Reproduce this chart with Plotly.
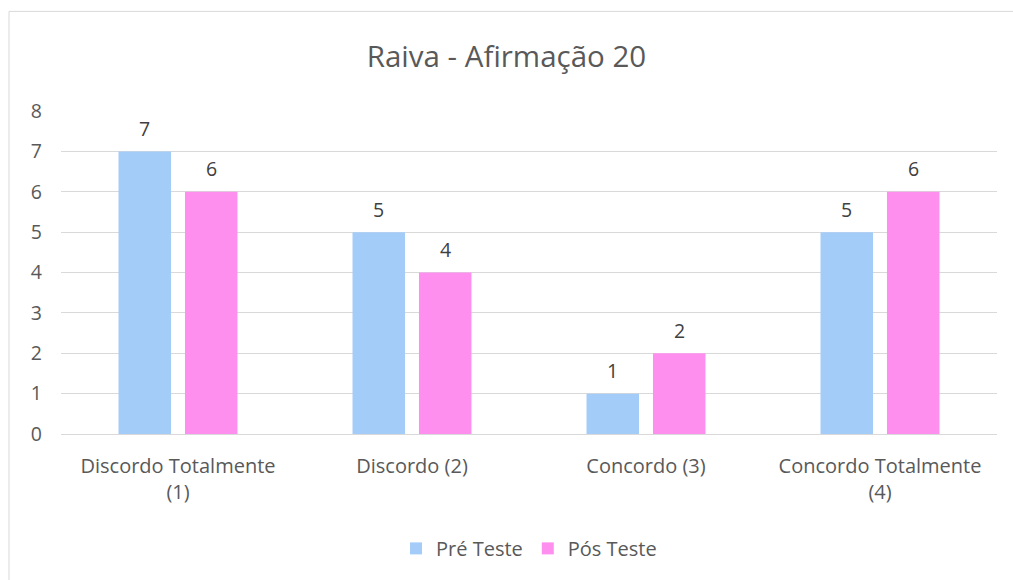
import plotly.graph_objects as go

categories = ["Discordo Totalmente<br>(1)", "Discordo (2)", "Concordo (3)", "Concordo Totalmente<br>(4)"]
pre_teste = [7, 5, 1, 5]
pos_teste = [6, 4, 2, 6]
y_ticks = [0, 1, 2, 3, 4, 5, 6, 7, 8]

FONT = "Open Sans"
TXT = "#595959"
LBL = "#404040"

fig = go.Figure()
fig.add_trace(go.Bar(name="Pré Teste", x=categories, y=pre_teste,
                     marker=dict(color="#A4CCF8", line=dict(width=0))))
fig.add_trace(go.Bar(name="Pós Teste", x=categories, y=pos_teste,
                     marker=dict(color="#FF8FEF", line=dict(width=0))))

annotations = []
for vals, shift in ((pre_teste, -33.5), (pos_teste, 33.5)):
    for c, v in zip(categories, vals):
        annotations.append(dict(x=c, y=v, xref="x", yref="y", text=str(v), showarrow=False,
                                xshift=shift, yshift=23, yanchor="middle",
                                font=dict(family=FONT, size=19.5, color=LBL)))

fig.update_layout(
    width=1013, height=580,
    margin=dict(l=61, r=16, t=111, b=146),
    paper_bgcolor="white", plot_bgcolor="white",
    title=dict(text="Raiva - Afirmação 20", x=0.5, xanchor="center", y=1 - 57 / 580, yanchor="middle",
               font=dict(family=FONT, size=29.5, color=TXT)),
    barmode="group", bargap=0.432, bargroupgap=0.21,
    font=dict(family=FONT, size=20, color=TXT),
    legend=dict(orientation="h", x=0.5, xanchor="center", y=-(549 - 434.4) / 323.6, yanchor="middle",
                font=dict(family=FONT, size=20, color=TXT), itemwidth=30,
                traceorder="normal"),
    xaxis=dict(showgrid=False, showline=True, linecolor="#D9D9D9", linewidth=1,
               ticks="", tickfont=dict(family=FONT, size=20, color=TXT), ticklabelstandoff=14),
    yaxis=dict(range=[0, 8], tickvals=y_ticks, showgrid=True, gridcolor="#D9D9D9",
               gridwidth=1, zeroline=False, showline=False, ticks="",
               tickfont=dict(family=FONT, size=19.5, color=TXT), ticklabelstandoff=18),
    annotations=annotations,
    shapes=[dict(type="rect", xref="paper", yref="paper",
                 x0=-52 / 936, x1=(1013 + 10 - 61) / 936, y0=-(580 + 10 - 434.4) / 323.6,
                 y1=(434.4 - 11) / 323.6,
                 line=dict(color="#D9D9D9", width=1), fillcolor="rgba(0,0,0,0)", layer="below")],
)

fig.write_html("out.html", config={"displayModeBar": False},
               post_script="document.body.style.margin='0px';")
